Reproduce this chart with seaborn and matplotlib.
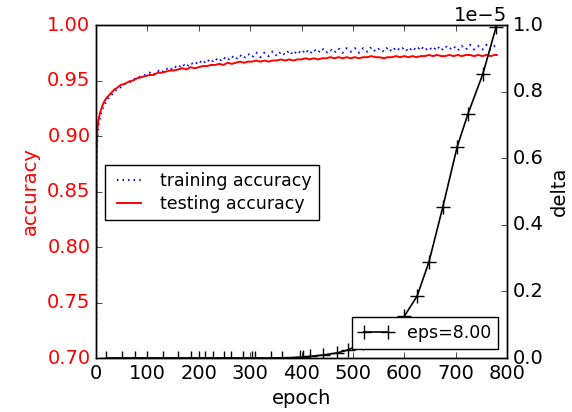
import matplotlib
matplotlib.use("Agg")
import matplotlib.pyplot as plt
import seaborn as sns
import numpy as np

epochs = [0, 1, 2, 3, 4, 6, 8, 10, 13, 16, 20, 24, 28, 32, 36,
          40, 48, 56, 64, 72, 80, 88, 96, 104, 112, 120, 128, 136, 144, 152, 160,
          168, 176, 184, 192, 200, 208, 216, 224, 232, 240, 248, 256, 264, 272, 280,
          288, 296, 304, 312, 320, 328, 336, 344, 352, 360, 368, 376, 384, 392, 400,
          408, 416, 424, 432, 440, 448, 456, 464, 472, 480, 488, 496, 504, 512, 520,
          528, 536, 544, 552, 560, 568, 576, 584, 592, 600, 608, 616, 624, 632, 640,
          648, 656, 664, 672, 680, 688, 696, 704, 712, 720, 728, 736, 744, 752, 760,
          768, 776, 780]

train_acc = [0.700, 0.872, 0.893, 0.902, 0.908, 0.913, 0.917, 0.921, 0.925, 0.928,
             0.931, 0.934, 0.936, 0.938, 0.940,
             0.942, 0.944, 0.947, 0.948, 0.951, 0.952, 0.954, 0.955, 0.957, 0.955,
             0.959, 0.957, 0.961, 0.959, 0.963, 0.961, 0.965, 0.962, 0.966, 0.964,
             0.968, 0.965, 0.969, 0.966, 0.970, 0.967, 0.971, 0.968, 0.972, 0.969,
             0.973, 0.970, 0.974, 0.971, 0.975, 0.971, 0.975, 0.972, 0.976, 0.972,
             0.976, 0.973, 0.977, 0.973, 0.977, 0.974, 0.978, 0.974, 0.978, 0.975,
             0.979, 0.975, 0.978, 0.975, 0.979, 0.975, 0.979, 0.976, 0.979, 0.975,
             0.979, 0.976, 0.980, 0.976, 0.979, 0.976, 0.980, 0.976, 0.980, 0.977,
             0.980, 0.976, 0.980, 0.977, 0.981, 0.977, 0.980, 0.977, 0.981, 0.977,
             0.981, 0.978, 0.981, 0.977, 0.981, 0.978, 0.982, 0.978, 0.981, 0.978,
             0.982, 0.978, 0.981, 0.980]

test_acc = [0.700, 0.880, 0.899, 0.907, 0.912, 0.917, 0.921, 0.924, 0.928, 0.931,
            0.934, 0.936, 0.938, 0.940, 0.942,
            0.943, 0.946, 0.947, 0.949, 0.950, 0.952, 0.953, 0.954, 0.955, 0.955,
            0.957, 0.957, 0.958, 0.959, 0.959, 0.960, 0.961, 0.960, 0.962, 0.961,
            0.962, 0.963, 0.963, 0.964, 0.964, 0.965, 0.964, 0.966, 0.965, 0.966,
            0.967, 0.966, 0.967, 0.967, 0.968, 0.967, 0.968, 0.967, 0.968, 0.968,
            0.969, 0.968, 0.969, 0.968, 0.969, 0.969, 0.970, 0.969, 0.970, 0.969,
            0.970, 0.970, 0.971, 0.970, 0.971, 0.970, 0.971, 0.970, 0.971, 0.970,
            0.971, 0.971, 0.972, 0.971, 0.971, 0.970, 0.971, 0.971, 0.972, 0.971,
            0.972, 0.971, 0.972, 0.971, 0.972, 0.972, 0.973, 0.972, 0.973, 0.972,
            0.972, 0.973, 0.972, 0.973, 0.972, 0.973, 0.973, 0.972, 0.973, 0.972,
            0.973, 0.972, 0.973, 0.973]

delta_epochs = [20, 50, 75, 100, 130, 160, 185, 200, 212, 228, 250, 262, 286, 304,
                310, 340, 362, 397, 403, 417, 442, 469, 490, 520, 560, 600, 625, 648,
                675, 703, 724, 753, 779]
delta_vals = [0, 0, 0, 0, 0, 0, 0, 0, 0, 0, 0, 0, 0, 0,
              0, 0, 0.0005e-5, 0.002e-5, 0.0025e-5, 0.005e-5, 0.009e-5, 0.015e-5,
              0.024e-5, 0.045e-5, 0.08e-5, 0.125e-5, 0.186e-5, 0.288e-5,
              0.453e-5, 0.634e-5, 0.733e-5, 0.853e-5, 0.995e-5]

plt.style.use("classic")
plt.rcParams["font.family"] = ["DejaVu Sans"]
plt.rcParams["figure.facecolor"] = "white"
plt.rcParams["savefig.facecolor"] = "white"

fig = plt.figure(figsize=(5.72, 4.12), dpi=100)
ax = fig.add_axes([96 / 572, 54 / 412, 411 / 572, 333 / 412])

sns.lineplot(x=epochs, y=train_acc, ax=ax, color="b", linestyle=":",
             linewidth=1.6, label="training accuracy", errorbar=None)
sns.lineplot(x=epochs, y=test_acc, ax=ax, color="r", linestyle="-",
             linewidth=1.4, label="testing accuracy", errorbar=None)
ax.set_xlim(0, 800)
ax.set_ylim(0.70, 1.00)
ax.set_xticks(np.arange(0, 801, 100))
ax.set_yticks(np.arange(0.70, 1.001, 0.05))
ax.set_xlabel("epoch", fontsize=14)
ax.set_ylabel("accuracy", fontsize=14, color="r")
ax.tick_params(axis="y", labelcolor="r", labelsize=14)
ax.tick_params(axis="x", labelsize=14)
ax.legend(loc="center left", bbox_to_anchor=(0.0, 0.497), fontsize=12.5,
          numpoints=2, handlelength=2, borderpad=0.4, labelspacing=0.3)

ax2 = ax.twinx()
sns.lineplot(x=delta_epochs, y=delta_vals, ax=ax2, color="k", marker="+",
             markersize=10, markeredgewidth=1, markeredgecolor="k",
             linewidth=1.2, label="eps=8.00", errorbar=None)
ax2.set_ylim(0, 1e-5)
ax2.set_xlim(0, 800)
ax2.set_yticks(np.arange(0, 1.01e-5, 0.2e-5))
ax2.ticklabel_format(axis="y", style="sci", scilimits=(-3, 3), useOffset=True)
ax2.set_ylabel("delta", fontsize=14)
ax2.tick_params(axis="y", labelsize=14)
ax2.yaxis.get_offset_text().set_fontsize(14)
ax2.legend(loc="lower right", bbox_to_anchor=(1.0, 0.0), fontsize=12.5,
           numpoints=2, handlelength=2, borderpad=0.4)

fig.savefig("out.png", dpi=100)
